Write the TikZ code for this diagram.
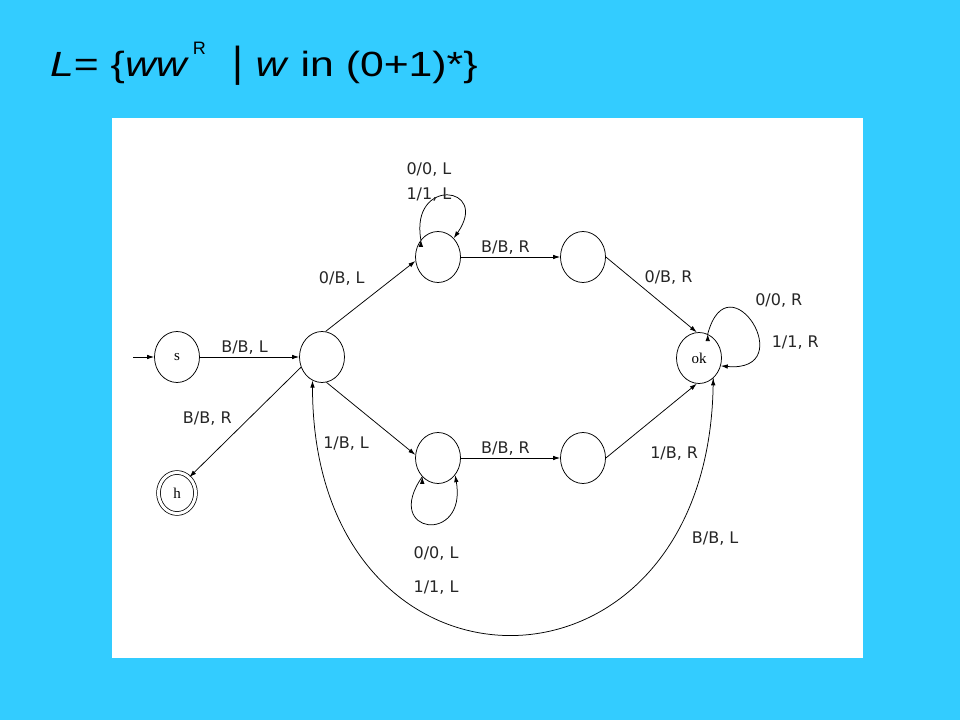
\documentclass[tikz,border=0pt]{standalone}
\usepackage{fontspec}
\setmainfont{Liberation Sans}
\newfontfamily\dejavu{DejaVu Sans}
\newfontfamily\tmsfont{Liberation Serif}
\usetikzlibrary{shapes, arrows, arrows.meta, positioning}
\definecolor{slidecyan}{RGB}{51,204,255}

\begin{document}
\begin{tikzpicture}[x=1pt, y=1pt,
blank/.style={font=\dejavu\fontsize{16}{25}\selectfont, text=black!85, inner sep=2pt},
state/.style={ellipse, draw=black, line width=0.75pt, minimum width=45pt,
minimum height=51pt, inner sep=0pt, font=\tmsfont\fontsize{15}{15}\selectfont,
node distance=145pt},
state-halt/.style={state, double, double distance=3pt, minimum width=37pt, minimum height=41pt},
line/.style={draw, line width=0.75pt, -{Latex[length=7pt, width=4.5pt]}}
]

\fill [slidecyan] (0,0) rectangle (960,720);
\fill [white] (112,62) rectangle (863,602);
\useasboundingbox (0,0) rectangle (960,720);

\node [anchor=base west, inner sep=0pt, font=\fontsize{35}{35}\selectfont] (title) at (50,643)
{\scalebox{1.22}[1]{\textit{L}= \{\textit{ww}}\hspace{4pt}\raisebox{22pt}{\fontsize{18}{18}\selectfont R}%
\hspace{27pt}{\fontsize{42}{42}\selectfont|}\scalebox{1.22}[1]{ \textit{w} in (0+1)*\}}};

\node [state] (s) at (177,363) {s};
\node [state, right of=s] (q0) {};
\node [state] (q1) at (438,463) {};
\node [state, right of=q1] (q3) {};
\node [state] (q2) at (438,262) {};
\node [state, right of=q2] (q4) {};
\node [state] (ok) at (699,362) {ok};
\node [state-halt] (h) at (177,227) {h};
\coordinate (start) at (133,363);

\path [line] (start) -- (s);
\path [line] (s) -- node[blank, above, pos=0.45] {B/B, L} (q0);
\path [line] (q0.206) -- node[blank, above left, pos=0.6, yshift=5pt] {B/B, R} (h.52);
\path [line] (q0.82) -- node[blank, above left, pos=0.55, xshift=-8pt, yshift=5pt] {0/B, L} (q1.190);
\path [line] (q0.-80) -- node[blank, below left=12pt, pos=0.6] {1/B, L} (q2.172);
\path [line] (q1) -- node[blank, above, pos=0.45] {B/B, R} (q3);
\path [line] (q2) -- node[blank, above, pos=0.45] {B/B, R} (q4);
\path [line] (q3.east) -- node[blank, above right, pos=0.4] {0/B, R} (ok.95);
\path [line] (q4.east) -- node[blank, below right=8pt, pos=0.4, yshift=-11pt] {1/B, R} (ok.-95);

\path [line] (q1.135) edge[out=100, in=55, looseness=5]
  node[blank, align=center, xshift=-18pt, yshift=14pt] {0/0, L\\1/1, L} (q1.50);
\path [line] (q2.-130) edge[out=-125, in=-80, looseness=5.5]
  node[blank, align=center, xshift=8pt, yshift=-47pt] {0/0, L\\[9pt]1/1, L} (q2.-45);
\path [line] (ok.70) edge[out=75, in=-5, looseness=6]
  node[blank, pos=0.35, above right, xshift=13pt] {0/0, R}
  node[blank, pos=0.7, right, xshift=12pt, yshift=5pt] {1/1, R} (ok.-20);
\path [line] (ok.-55) edge[out=-90, in=-90, looseness=2.17]
  node[blank, pos=0.2, right=18pt, yshift=3pt] {B/B, L} (q0.-112);

\end{tikzpicture}
\end{document}
